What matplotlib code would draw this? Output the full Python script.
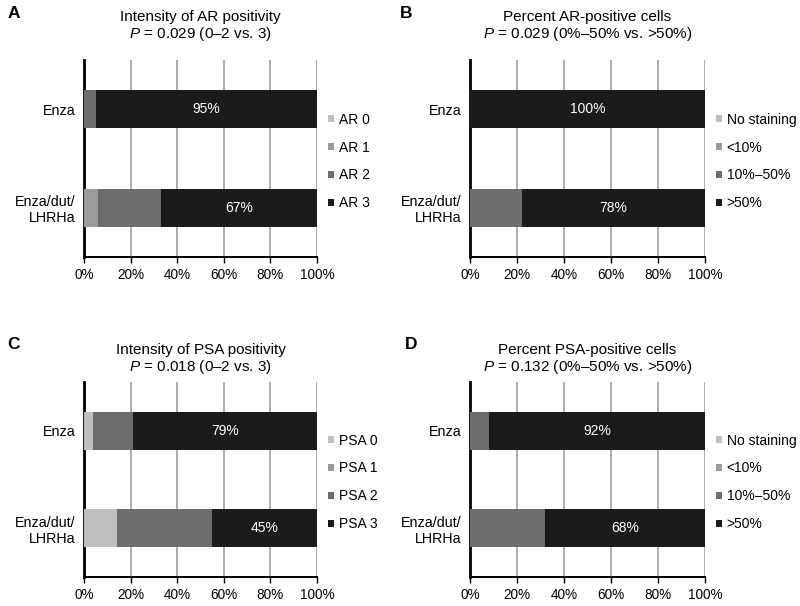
"""Stacked horizontal bars of AR / PSA staining by treatment arm."""

import numpy as np
import matplotlib.pyplot as plt

plt.rcParams["font.family"] = ["Liberation Sans", "DejaVu Sans"]
plt.rcParams["mathtext.fontset"] = "custom"
plt.rcParams["mathtext.it"] = "Liberation Sans:italic"
plt.rcParams["mathtext.rm"] = "Liberation Sans"

groups = ["Enza/dut/\nLHRHa", "Enza"]  # bottom to top

intensity_colors = ["#bfbfbf", "#9b9b9b", "#6d6d6f", "#1b1b1b"]

# panel A: intensity of AR positivity (percent of patients)
ar_labels = ["AR 0", "AR 1", "AR 2", "AR 3"]
ar_intensity = {
    "AR 0": [0, 0],
    "AR 1": [6, 0],
    "AR 2": [27, 5],
    "AR 3": [67, 95],
}

# panel B: percent AR-positive cells
cell_labels = ["No staining", "<10%", "10%\u201350%", ">50%"]
ar_cells = {
    "No staining": [0, 0],
    "<10%": [0, 0],
    "10%\u201350%": [22, 0],
    ">50%": [78, 100],
}

# panel C: intensity of PSA positivity
psa_labels = ["PSA 0", "PSA 1", "PSA 2", "PSA 3"]
psa_intensity = {
    "PSA 0": [14, 4],
    "PSA 1": [0, 0],
    "PSA 2": [41, 17],
    "PSA 3": [45, 79],
}

# panel D: percent PSA-positive cells
psa_cells = {
    "No staining": [0, 0],
    "<10%": [0, 0],
    "10%\u201350%": [32, 8],
    ">50%": [68, 92],
}

panels = [
    ("A", "Intensity of AR positivity", "0.029 (0\u20132 vs. 3)", ar_labels, ar_intensity),
    ("B", "Percent AR-positive cells", "0.029 (0%\u201350% vs. >50%)", cell_labels, ar_cells),
    ("C", "Intensity of PSA positivity", "0.018 (0\u20132 vs. 3)", psa_labels, psa_intensity),
    ("D", "Percent PSA-positive cells", "0.132 (0%\u201350% vs. >50%)", cell_labels, psa_cells),
]

W, H = 800, 606
# axes boxes in pixels: left, top, right, bottom
axes_px = [(84, 60, 317, 257), (470, 60, 705, 257),
           (84, 382, 317, 577), (470, 382, 705, 577)]
# title line centres (px) and panel letter position (px)
title_y = [(17, 34), (17, 34), (350, 367), (350, 367)]
letter_xy = [(8, 14), (400, 14), (7, 345), (405, 345)]

fig = plt.figure(figsize=(W / 100, H / 100), dpi=100)

for i, (letter, title, pval, labels, data) in enumerate(panels):
    l, t, r, b = axes_px[i]
    ax = fig.add_axes([l / W, 1 - b / H, (r - l) / W, (b - t) / H])
    y = np.arange(len(groups))
    left = np.zeros(len(groups))
    for lab, col in zip(labels, intensity_colors):
        vals = np.array(data[lab], dtype=float)
        ax.barh(y, vals, left=left, height=0.39, color=col, label=lab, zorder=3)
        left += vals
    # white percent label centred on the top category
    top_vals = np.array(data[labels[-1]], dtype=float)
    for yi, v, start in zip(y, top_vals, left - top_vals):
        ax.text(start + v / 2, yi, f"{v:.0f}%", color="white", ha="center",
                va="center", fontsize=10, zorder=4)

    ax.set_xlim(0, 100)
    ax.set_ylim(-0.5, 1.5)
    ax.set_xticks(np.arange(0, 101, 20))
    ax.set_xticklabels([f"{tk}%" for tk in range(0, 101, 20)])
    ax.set_yticks(y)
    ax.set_yticklabels(groups)
    ax.tick_params(axis="y", length=0, pad=6, labelsize=10.3)
    ax.tick_params(axis="x", length=4, width=1, pad=4, labelsize=9.8)
    ax.xaxis.grid(True, color="#9e9e9e", linewidth=1.2, zorder=0)
    for s in ["top", "right"]:
        ax.spines[s].set_visible(False)
    ax.spines["left"].set_linewidth(2)
    ax.spines["bottom"].set_linewidth(1.4)

    cx = (l + r) / 2 / W
    fig.text(cx, 1 - title_y[i][0] / H, title, fontsize=11, ha="center", va="center")
    fig.text(cx, 1 - title_y[i][1] / H, f"$\\it{{P}}$ = {pval}", fontsize=11,
             ha="center", va="center")
    fig.text(letter_xy[i][0] / W, 1 - letter_xy[i][1] / H, letter, fontsize=12.5,
             fontweight="bold", va="center")

    ax.legend(loc="center left", bbox_to_anchor=(1.0, 0.485), frameon=False,
              handlelength=0.45, handleheight=0.45, handletextpad=0.3,
              labelspacing=1.0, fontsize=10, borderaxespad=0.4)

fig.savefig("out.png", dpi=100)
